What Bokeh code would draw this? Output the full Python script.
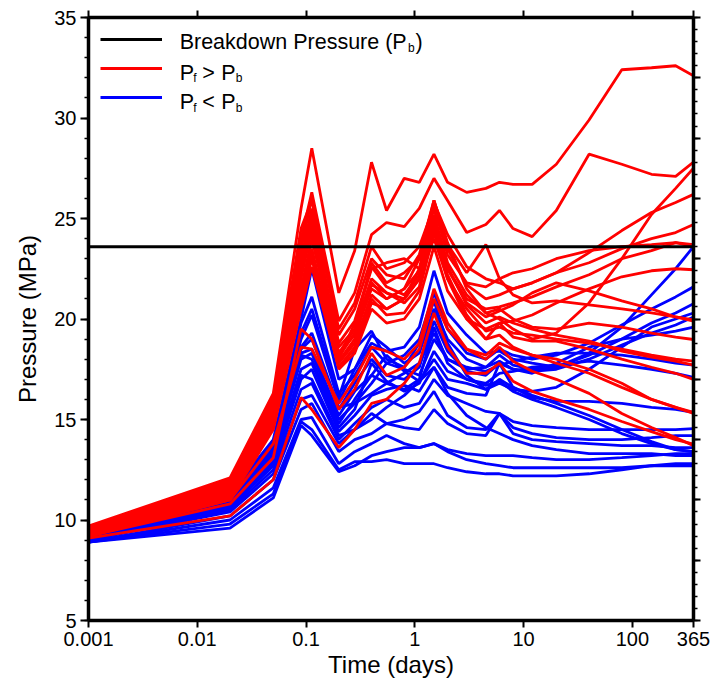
import numpy as np
from bokeh.plotting import figure
from bokeh.models import (Range1d, FixedTicker, LogAxis, LinearAxis, Label, Legend,
                          LegendItem, CustomJSTickFormatter)
from bokeh.embed import file_html
from bokeh.resources import INLINE

# ---------------- data ----------------
time_days = [0.001, 0.02, 0.05, 0.09, 0.113, 0.2, 0.28, 0.4, 0.55, 0.8, 1.1, 1.5,
             2.0, 3.0, 4.5, 6.0, 8.0, 12, 20, 40, 80, 150, 250, 365]
breakdown_pressure = 23.6

x_tick_values = [0.001, 0.01, 0.1, 1, 10, 100, 365]
x_tick_labels = ["0.001", "0.01", "0.1", "1", "10", "100", "365"]
y_tick_values = [5, 10, 15, 20, 25, 30, 35]
y_minor_values = list(range(5, 36))
right_tick_values = [35, 32, 29, 26, 23, 20, 17, 14, 11, 8, 5]
right_minor_values = [round(5 + 0.6 * i, 2) for i in range(51)]

# Pf > Pb (red)
red_01 = [9.7, 12.1, 16.3, 25.5, 28.5, 21.3, 23.4, 27.8, 25.4, 27.0, 26.8, 28.2, 26.8, 26.3, 26.5, 26.8, 26.7, 26.7, 27.7, 29.9, 32.4, 32.5, 32.6, 32.1]
red_02 = [9.6, 12.0, 16.0, 24.0, 26.3, 19.9, 21.3, 24.2, 24.8, 24.6, 25.5, 27.0, 25.9, 24.3, 24.7, 25.4, 24.5, 24.1, 25.4, 28.2, 27.7, 27.2, 27.1, 27.8]
red_03 = [9.5, 11.8, 15.8, 23.5, 26.0, 19.2, 20.5, 23.0, 22.2, 22.0, 23.2, 25.9, 23.8, 21.5, 20.3, 20.0, 19.5, 19.0, 19.3, 20.8, 23.0, 25.2, 26.5, 27.5]
red_04 = [9.5, 11.7, 15.5, 23.0, 25.5, 18.6, 19.5, 22.0, 21.3, 21.0, 22.5, 25.8, 24.2, 22.6, 22.0, 21.8, 21.5, 21.8, 22.3, 23.3, 24.4, 25.3, 25.8, 26.2]
red_05 = [9.4, 11.6, 15.3, 22.6, 25.2, 18.3, 19.2, 21.5, 21.0, 21.5, 23.0, 25.5, 23.5, 21.7, 21.0, 21.2, 21.5, 21.8, 22.3, 22.8, 23.5, 24.0, 24.3, 24.7]
red_06 = [9.4, 11.5, 15.2, 22.2, 24.8, 18.0, 19.8, 22.5, 22.8, 23.0, 22.5, 24.5, 22.5, 21.0, 20.5, 20.6, 20.8, 21.1, 21.6, 22.2, 23.0, 23.4, 23.8, 23.6]
red_07 = [9.4, 11.5, 15.0, 22.0, 24.5, 17.8, 18.8, 21.2, 20.5, 21.0, 22.0, 24.0, 22.0, 20.0, 19.5, 19.8, 19.9, 20.2, 20.8, 21.5, 22.1, 22.4, 22.5, 22.45]
red_08 = [9.3, 11.4, 14.9, 21.5, 24.0, 18.3, 19.5, 22.8, 21.8, 22.3, 23.0, 25.9, 23.7, 22.3, 23.7, 22.0, 21.2, 20.8, 20.9, 20.7, 20.5, 20.3, 20.1, 19.96]
red_09 = [9.3, 11.3, 14.8, 21.2, 23.5, 17.9, 19.0, 21.8, 21.0, 21.5, 22.4, 25.2, 22.8, 21.2, 20.3, 20.5, 20.0, 19.6, 19.5, 19.8, 19.6, 19.3, 19.1, 18.98]
red_10 = [9.3, 11.2, 14.7, 21.0, 23.2, 17.6, 18.6, 21.0, 20.2, 20.3, 21.4, 24.3, 22.0, 20.5, 19.4, 19.6, 19.3, 19.2, 19.0, 18.8, 18.5, 18.2, 18.0, 17.9]
red_11 = [9.2, 11.1, 14.6, 20.8, 23.0, 17.5, 18.3, 20.5, 19.8, 20.0, 21.0, 23.6, 21.4, 20.0, 19.0, 19.8, 19.1, 18.9, 18.9, 18.5, 18.0, 17.6, 17.3, 17.0]
red_12 = [9.2, 11.0, 14.5, 20.5, 22.6, 17.6, 18.5, 20.8, 20.5, 21.0, 22.0, 24.6, 22.2, 20.2, 19.0, 19.2, 18.6, 18.2, 17.8, 17.3, 16.6, 16.0, 15.6, 15.36]
red_13 = [9.1, 10.2, 12.0, 16.1, 15.5, 13.6, 14.5, 15.8, 16.0, 16.8, 17.8, 20.3, 18.6, 17.3, 17.3, 17.8, 16.9, 16.4, 16.0, 15.5, 14.9, 14.4, 14.0, 13.78]
red_14 = [9.2, 10.8, 13.1, 19.5, 19.0, 15.5, 16.5, 18.3, 17.2, 17.6, 18.5, 21.0, 19.5, 18.5, 18.2, 18.8, 18.5, 18.2, 18.0, 17.5, 16.8, 16.0, 15.6, 15.3]
red_15 = [9.2, 11.0, 13.8, 18.6, 18.5, 15.8, 17.0, 18.6, 18.4, 18.0, 18.8, 21.5, 19.8, 18.5, 18.0, 18.6, 17.9, 17.4, 17.0, 16.3, 15.3, 14.6, 14.1, 13.7]
red_16 = [9.6, 11.9, 16.1, 24.5, 25.9, 19.5, 20.8, 23.6, 22.5, 22.8, 23.6, 25.6, 23.2, 21.8, 21.6, 22.0, 22.3, 22.5, 23.0, 23.4, 23.6, 23.7, 23.8, 23.7]
red_17 = [9.5, 11.8, 15.9, 23.8, 25.0, 18.8, 19.9, 22.6, 21.6, 21.2, 22.2, 25.0, 22.5, 20.8, 20.1, 20.4, 20.7, 21.3, 21.8, 21.4, 20.9, 20.5, 20.1, 19.9]
red_18 = [9.4, 11.6, 15.6, 23.2, 24.2, 18.1, 19.3, 21.7, 21.3, 20.8, 21.6, 24.8, 22.6, 20.7, 19.8, 20.1, 19.8, 19.5, 19.2, 18.9, 18.4, 18.1, 17.9, 17.7]

# Pf < Pb (blue)
blue_01 = [9.3, 11.3, 14.0, 20.0, 22.5, 17.0, 17.5, 18.8, 18.4, 18.6, 19.6, 22.4, 20.3, 19.2, 18.3, 18.4, 18.0, 17.8, 17.6, 18.3, 19.6, 21.2, 22.5, 23.6]
blue_02 = [9.2, 11.2, 13.8, 19.8, 21.1, 16.3, 17.2, 18.6, 17.8, 18.2, 19.0, 21.3, 19.5, 18.3, 18.0, 18.5, 18.2, 18.0, 18.2, 18.8, 19.7, 20.5, 21.1, 21.6]
blue_03 = [9.2, 11.1, 13.6, 19.0, 20.2, 15.9, 17.5, 19.2, 18.6, 17.8, 18.3, 20.5, 19.0, 18.0, 17.6, 18.2, 17.7, 17.5, 17.6, 18.2, 19.0, 19.8, 20.3, 20.76]
blue_04 = [9.2, 11.0, 13.5, 18.5, 19.0, 15.5, 16.8, 18.0, 17.2, 17.0, 17.6, 19.9, 18.4, 17.4, 17.2, 17.8, 17.5, 17.4, 17.5, 18.0, 18.7, 19.3, 19.7, 20.1]
blue_05 = [9.1, 10.9, 13.3, 18.3, 18.5, 15.2, 16.4, 17.2, 16.8, 17.3, 17.8, 19.3, 18.0, 17.5, 17.6, 17.9, 17.5, 17.3, 17.8, 18.6, 19.0, 19.2, 19.4, 19.6]
blue_06 = [9.1, 10.8, 13.1, 18.0, 18.3, 15.0, 15.8, 16.8, 17.8, 17.5, 17.2, 19.0, 18.0, 17.6, 17.4, 17.7, 17.9, 18.1, 18.3, 18.3, 18.2, 18.0, 17.8, 17.7]
blue_07 = [9.1, 10.7, 12.9, 17.5, 17.8, 14.6, 15.5, 17.8, 16.9, 16.4, 16.8, 18.4, 17.4, 17.0, 16.8, 17.3, 17.4, 17.6, 17.7, 17.9, 17.7, 17.5, 17.3, 17.1]
blue_08 = [9.0, 10.6, 12.7, 17.0, 17.5, 14.4, 15.2, 16.2, 16.5, 16.7, 16.4, 17.6, 16.6, 16.3, 16.2, 17.8, 16.6, 16.1, 15.9, 15.9, 15.8, 15.6, 15.5, 15.36]
blue_09 = [9.0, 10.5, 12.5, 16.5, 16.8, 14.0, 14.8, 15.6, 16.0, 15.6, 15.8, 17.0, 16.2, 15.8, 15.4, 15.3, 14.9, 14.7, 14.6, 14.5, 14.5, 14.5, 14.5, 14.55]
blue_10 = [9.0, 10.4, 12.3, 16.0, 16.2, 13.8, 14.5, 15.3, 14.8, 15.0, 15.4, 16.4, 15.2, 14.6, 14.5, 15.3, 14.6, 14.3, 14.1, 14.0, 14.0, 14.1, 14.2, 14.2]
blue_11 = [8.9, 10.2, 12.0, 15.5, 15.8, 13.4, 14.0, 14.3, 14.8, 14.6, 14.5, 15.5, 14.8, 14.3, 14.2, 15.3, 14.3, 14.0, 13.9, 13.8, 13.7, 13.7, 13.6, 13.6]
blue_12 = [8.9, 10.0, 11.6, 15.0, 15.1, 12.8, 13.4, 13.8, 14.2, 13.8, 13.6, 13.8, 13.5, 13.3, 13.2, 13.2, 13.2, 13.1, 13.0, 13.0, 13.1, 13.2, 13.3, 13.3]
blue_13 = [8.9, 9.8, 11.3, 14.9, 14.5, 12.5, 12.9, 12.9, 13.0, 12.8, 12.8, 12.8, 12.6, 12.4, 12.3, 12.3, 12.2, 12.2, 12.2, 12.3, 12.5, 12.7, 12.8, 12.8]
blue_14 = [8.9, 9.6, 11.1, 14.7, 14.2, 12.4, 12.7, 13.2, 13.4, 13.6, 13.6, 13.8, 13.4, 13.0, 12.8, 12.7, 12.6, 12.6, 12.6, 12.6, 12.6, 12.7, 12.7, 12.7]
blue_15 = [9.2, 11.1, 13.9, 19.3, 20.5, 16.1, 18.5, 19.4, 18.0, 17.6, 18.8, 20.9, 18.8, 17.2, 16.5, 16.8, 16.5, 16.4, 16.6, 17.5, 18.6, 19.6, 20.0, 20.3]
blue_16 = [9.1, 10.9, 13.4, 18.2, 18.0, 14.8, 16.0, 17.2, 18.2, 17.4, 16.9, 18.0, 17.0, 16.8, 16.5, 17.0, 16.6, 16.2, 15.8, 15.2, 14.5, 13.9, 13.5, 13.4]
blue_17 = [9.0, 10.6, 12.8, 17.2, 17.0, 14.2, 14.5, 15.0, 15.6, 16.2, 16.9, 17.6, 16.3, 15.2, 14.6, 14.3, 14.0, 13.7, 13.5, 13.3, 13.3, 13.3, 13.2, 13.2]
blue_18 = [9.1, 10.8, 13.2, 18.6, 19.3, 15.6, 15.8, 16.3, 16.8, 16.5, 17.0, 19.6, 17.8, 17.0, 16.7, 16.9, 16.4, 16.0, 15.6, 15.0, 14.3, 13.8, 13.5, 13.4]

red_series = [red_01, red_02, red_03, red_04, red_05, red_06, red_07, red_08, red_09,
              red_10, red_11, red_12, red_13, red_14, red_15, red_16, red_17, red_18]
blue_series = [blue_01, blue_02, blue_03, blue_04, blue_05, blue_06, blue_07, blue_08, blue_09,
               blue_10, blue_11, blue_12, blue_13, blue_14, blue_15, blue_16, blue_17, blue_18]

# ---------------- figure ----------------
FONT = "Liberation Sans"
X0, X1, Y0, Y1 = 0.001, 365, 5, 35

p = figure(width=710, height=686, x_axis_type="log",
           x_range=Range1d(X0, X1), y_range=Range1d(Y0, Y1),
           output_backend="svg", toolbar_location=None,
           min_border_left=88, min_border_right=17, min_border_top=17, min_border_bottom=66)
p.xgrid.visible = False
p.ygrid.visible = False
p.outline_line_color = None
p.background_fill_color = "white"

xb = p.xaxis[0]
xb.ticker = FixedTicker(ticks=x_tick_values, minor_ticks=[])
xb.formatter = CustomJSTickFormatter(args=dict(vals=x_tick_values, labs=x_tick_labels), code="""
    let best = 0, err = Infinity;
    for (let i = 0; i < vals.length; i++) {
        const e = Math.abs(Math.log(vals[i]) - Math.log(tick));
        if (e < err) { err = e; best = i; }
    }
    return labs[best];
""")
xb.axis_label = "Time (days)"
yl = p.yaxis[0]
yl.ticker = FixedTicker(ticks=y_tick_values, minor_ticks=y_minor_values)
yl.axis_label = "Pressure (MPa)"

blank = CustomJSTickFormatter(code="return ' ';")
xt = LogAxis(ticker=FixedTicker(ticks=x_tick_values, minor_ticks=[]), formatter=blank,
             major_label_text_font_size="6px", major_label_standoff=0)
yr = LinearAxis(ticker=FixedTicker(ticks=right_tick_values, minor_ticks=right_minor_values),
                formatter=blank, major_label_text_font_size="6px", major_label_standoff=0)
p.add_layout(xt, "above")
p.add_layout(yr, "right")

for ax in (xb, yl, xt, yr):
    ax.axis_line_width = 3.5
    ax.axis_line_color = "black"
    ax.major_tick_line_width = 2
    ax.minor_tick_line_width = 1.5
    ax.major_tick_in = 0
    ax.minor_tick_in = 0
    ax.major_tick_out = 7
    ax.minor_tick_out = 4
    ax.major_label_text_font = FONT
    ax.major_label_text_color = "black"
    ax.axis_label_text_font = FONT
    ax.axis_label_text_font_style = "normal"
    ax.axis_label_text_color = "black"

xb.major_label_text_font_size = "20px"
yl.major_label_text_font_size = "20px"
xb.major_label_standoff = 4
yl.major_label_standoff = 4
yl.major_tick_out = 8
xb.axis_label_text_font_size = "24px"
yl.axis_label_text_font_size = "24px"
xb.axis_label_standoff = 2
yl.axis_label_standoff = 10

LW = 2.8
blue_renderers = [p.line(time_days, s, line_color="#0000ff", line_width=LW) for s in blue_series]
red_renderers = [p.line(time_days, s, line_color="#ff0000", line_width=LW) for s in red_series]
pb_renderer = p.line([time_days[0], time_days[-1]], [breakdown_pressure, breakdown_pressure],
                     line_color="black", line_width=3)

legend = Legend(items=[LegendItem(label=" ", renderers=[pb_renderer]),
                       LegendItem(label=" ", renderers=[red_renderers[0]]),
                       LegendItem(label=" ", renderers=[blue_renderers[0]])],
                location="top_left", margin=12, padding=12, spacing=9,
                glyph_width=62, glyph_height=20, label_height=20,
                label_text_font_size="10px", border_line_color=None,
                background_fill_alpha=0)
p.add_layout(legend)

# legend texts (positions relative to the frame: 604 x 603 px)
FL, FW, FT, FH = 88.0, 604.0, 17.0, 603.0
def fx(px):
    return 10 ** (np.log10(X0) + (px - FL) / FW * (np.log10(X1) - np.log10(X0)))
def fy(py):
    return Y1 - (py - FT) / FH * (Y1 - Y0)

def txt(s, px, py, size):
    p.add_layout(Label(x=fx(px), y=fy(py), text=s, text_font=FONT, text_font_size=size,
                       text_align="left", text_baseline="alphabetic", text_color="black"))

BIG, SUB = "21.5px", "12px"
DY = -7
txt("Breakdown Pressure (P", 179, 48 + DY, BIG)
txt("b", 407, 54 + DY, SUB)
txt(")", 414.5, 48 + DY, BIG)
for row_base, sym in ((79, ">"), (108.5, "<")):
    txt("P", 179, row_base + DY, BIG)
    txt("f", 192.5, row_base + 5.5 + DY, SUB)
    txt(sym, 201.5, row_base + DY, BIG)
    txt("P", 220.5, row_base + DY, BIG)
    txt("b", 235, row_base + 5.5 + DY, SUB)

open("out.html", "w").write(file_html(p, INLINE))
